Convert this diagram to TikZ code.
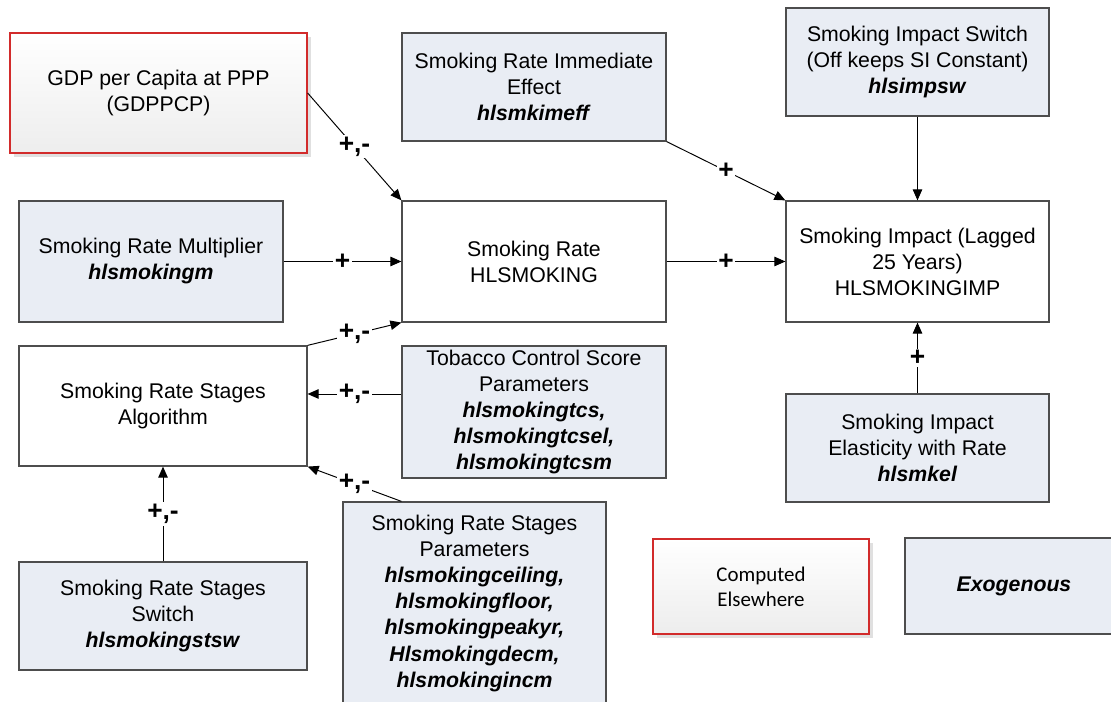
\documentclass[tikz,border=0pt]{standalone}
\usepackage{fontspec}
\setmainfont{Liberation Sans}
\newfontfamily\calfont{Carlito}
\usetikzlibrary{arrows.meta, shadows}
\definecolor{exofill}{HTML}{E9EDF4}
\definecolor{boxline}{HTML}{4D4D4D}
\definecolor{extred}{HTML}{D22B2B}
\newcommand{\vname}[1]{\textbf{\textit{#1}}}

\begin{document}
\begin{tikzpicture}[
  >={Triangle[length=0.22cm, width=0.19cm]},
  every node/.style={font=\fontsize{12.1}{14.8}\selectfont, align=center, inner sep=0pt},
  calcbox/.style={draw=boxline, line width=0.7pt, fill=white},
  exobox/.style={draw=boxline, line width=0.7pt, fill=exofill},
  extbox/.style={draw=extred, line width=0.7pt, top color=white, bottom color=black!7,
    drop shadow={shadow xshift=0.08cm, shadow yshift=-0.08cm, fill=black!12, opacity=1}},
  link/.style={->, line width=0.55pt},
  sign/.style={fill=white, inner sep=1pt, font=\fontsize{15}{15}\selectfont\bfseries}
]
\clip (0,0) rectangle (22.22,14.04);
% Top row
\node[extbox, minimum width=5.94cm, minimum height=2.40cm] (gdp) at (3.17, 12.18) {GDP per Capita at PPP\\(GDPPCP)};
\node[exobox, minimum width=5.28cm, minimum height=2.16cm] (imm) at (10.68, 12.30) {Smoking Rate Immediate\\Effect\\\vname{hlsmkimeff}};
\node[exobox, minimum width=5.26cm, minimum height=2.16cm] (isw) at (18.35, 12.80) {Smoking Impact Switch\\(Off keeps SI Constant)\\\vname{hlsimpsw}};
% Middle row
\node[exobox, minimum width=5.28cm, minimum height=2.42cm] (mult) at (3.02, 8.81) {Smoking Rate Multiplier\\\vname{hlsmokingm}};
\node[calcbox, minimum width=5.28cm, minimum height=2.42cm] (rate) at (10.68, 8.81) {Smoking Rate\\HLSMOKING};
\node[calcbox, minimum width=5.26cm, minimum height=2.42cm] (imp) at (18.35, 8.81) {Smoking Impact (Lagged\\25 Years)\\HLSMOKINGIMP};
% Stages block
\node[calcbox, minimum width=5.76cm, minimum height=2.40cm] (alg) at (3.26, 5.92) {Smoking Rate Stages\\Algorithm};
\node[exobox, minimum width=5.28cm, minimum height=2.64cm] (tcs) at (10.68, 5.80) {Tobacco Control Score\\Parameters\\\vname{hlsmokingtcs,}\\\vname{hlsmokingtcsel,}\\\vname{hlsmokingtcsm}};
\node[exobox, minimum width=5.26cm, minimum height=2.16cm] (elas) at (18.35, 5.08) {Smoking Impact\\Elasticity with Rate\\\vname{hlsmkel}};
\node[exobox, minimum width=5.76cm, minimum height=2.16cm] (ssw) at (3.26, 1.72) {Smoking Rate Stages\\Switch\\\vname{hlsmokingstsw}};
\node[exobox, minimum width=5.26cm, minimum height=4.06cm] (spar) at (9.49, 1.97) {Smoking Rate Stages\\Parameters\\\vname{hlsmokingceiling,}\\\vname{hlsmokingfloor,}\\\vname{hlsmokingpeakyr,}\\\vname{Hlsmokingdecm,}\\\vname{hlsmokingincm}};
% Legend
\node[extbox, minimum width=4.32cm, minimum height=1.90cm, font=\calfont\fontsize{11.9}{14.3}\selectfont] (comp) at (15.22, 2.31) {Computed\\Elsewhere};
\node[exobox, minimum width=4.36cm, minimum height=1.92cm] (exo) at (20.28, 2.32) {\vname{Exogenous}};
% Links
\draw[link] (gdp.east) -- (rate.north west) node[midway, sign] {+,-};
\draw[link] (mult.east) -- (rate.west) node[midway, sign] {+};
\draw[link] (imm.south east) -- (imp.north west) node[midway, sign] {+};
\draw[link] (rate.east) -- (imp.west) node[midway, sign] {+};
\draw[link] (isw.south) -- (imp.north);
\draw[link] (elas.north) -- (imp.south) node[midway, sign] {+};
\draw[link] (alg.north east) -- (rate.south west) node[midway, sign] {+,-};
\coordinate (tcsin) at ([yshift=0.36cm]tcs.west);
\draw[link] (tcsin) -- (tcsin -| alg.east) node[midway, sign] {+,-};
\coordinate (sparin) at (tcs.west |- spar.north);
\draw[link] (sparin) -- (alg.south east) node[midway, sign] {+,-};
\draw[link] (ssw.north) -- (alg.south) node[midway, sign] {+,-};
\end{tikzpicture}
\end{document}
